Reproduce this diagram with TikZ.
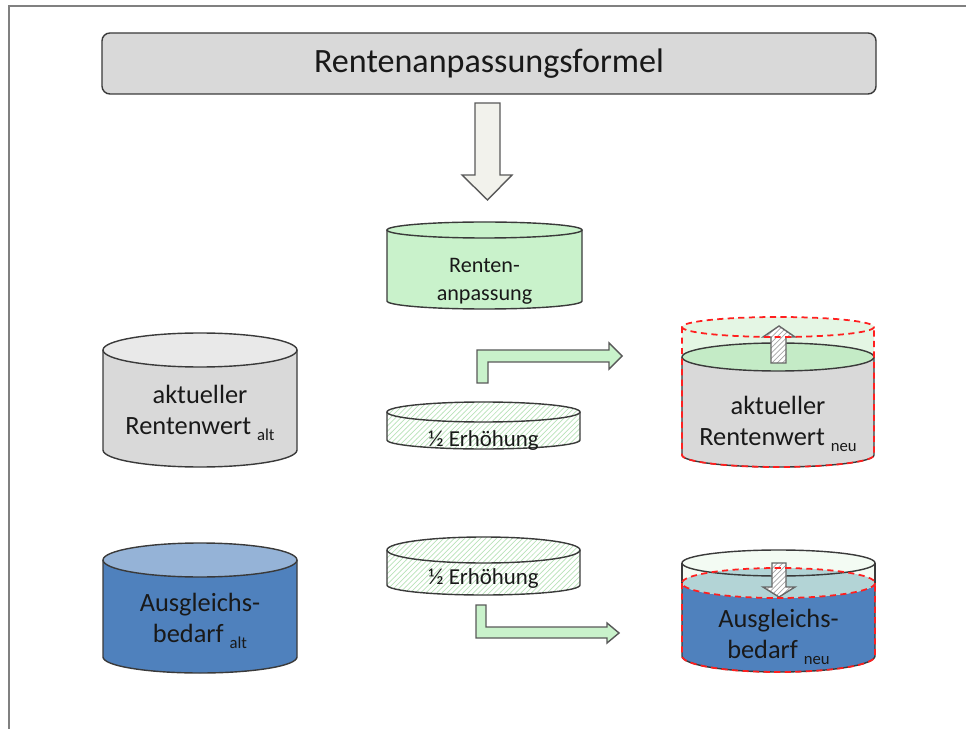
\documentclass[tikz,border=0pt]{standalone}
\usepackage{fontspec}
\setmainfont{Carlito}
\usepackage{xcolor}
\usepackage{tikz}
\usetikzlibrary{patterns}
\definecolor{framegray}{HTML}{808080}
\definecolor{titlegray}{HTML}{D9D9D9}
\definecolor{rimgray}{HTML}{3A3A3A}
\definecolor{arrowwhite}{HTML}{F2F2EC}
\definecolor{mintgreen}{HTML}{C9F2CB}
\definecolor{palegreen}{HTML}{E4F6E4}
\definecolor{lidgreen}{HTML}{C4EBC6}
\definecolor{hatchgreen}{HTML}{B9E3B9}
\definecolor{barrelgray}{HTML}{D9D9D9}
\definecolor{lidgray}{HTML}{E9E9E9}
\definecolor{barrelblue}{HTML}{4F81BD}
\definecolor{lidblue}{HTML}{95B3D7}
\definecolor{tealmix}{HTML}{B3D4D6}
\definecolor{dashred}{HTML}{FF1F1F}
\newcommand{\tief}[1]{\raisebox{-0.45ex}{\fontsize{9.5}{11}\selectfont #1}}

\begin{document}
\begin{tikzpicture}[x=0.2mm, y=-0.2mm,
    rim/.style={draw=rimgray, line width=0.8pt},
    reddash/.style={draw=dashred, line width=1pt, dash pattern=on 3.5pt off 2.5pt},
    hatched/.style={preaction={fill=white}, pattern=north east lines, pattern color=hatchgreen},
    arrowhatch/.style={preaction={fill=white}, pattern=north east lines, pattern color=black!35},
    barreltext/.style={font=\fontsize{15}{17.5}\selectfont, align=center, text=black!90},
    disctext/.style={font=\fontsize{13}{15}\selectfont, text=black!90}]
    \useasboundingbox (0,0) rectangle (966,729);
    \draw[framegray, line width=1.3pt] (9,729) -- (9,6) -- (966,6);

    \node[rim, fill=titlegray, rounded corners=4.5pt, minimum width=154.8mm,
          minimum height=12.2mm, font=\fontsize{19.4}{22}\selectfont, text=black!90]
          (formel) at (489,63.5) {Rentenanpassungsformel};
    \draw[draw=black!65, line width=0.8pt, fill=arrowwhite]
        (475,103) -- (500,103) -- (500,175) -- (512,175) -- (487.5,200)
        -- (462,175) -- (475,175) -- cycle;

    % Rentenanpassung
    \path[rim, fill=mintgreen] (387,230) -- (387,301)
        arc[start angle=180, end angle=0, x radius=97.5, y radius=8] -- (582,230);
    \draw[rim, fill=mintgreen] (484.5,230) ellipse[x radius=97.5, y radius=8];
    \node[disctext, font=\fontsize{12.6}{16}\selectfont, align=center]
        (anpassung) at (484.5,281) {Renten-\\anpassung};

    % aktueller Rentenwert alt
    \path[rim, fill=barrelgray] (103,350) -- (103,450)
        arc[start angle=180, end angle=0, x radius=97, y radius=17] -- (297,350);
    \draw[rim, fill=lidgray] (200,350) ellipse[x radius=97, y radius=17];
    \node[barreltext] (rwalt) at (200,413) {aktueller\\Rentenwert \tief{alt}};

    % Ausgleichsbedarf alt
    \path[rim, fill=barrelblue] (103,560) -- (103,657)
        arc[start angle=180, end angle=0, x radius=97, y radius=16] -- (297,560);
    \draw[rim, fill=lidblue] (200,560) ellipse[x radius=97, y radius=17];
    \node[barreltext] (abalt) at (200,621) {Ausgleichs-\\bedarf \tief{alt}};

    % halbe Erhoehungen
    \path[rim, hatched] (387,412) -- (387,440)
        arc[start angle=180, end angle=0, x radius=96.5, y radius=9] -- (580,412);
    \draw[rim, hatched] (483.5,412) ellipse[x radius=96.5, y radius=10];
    \node[disctext] (erhoehungoben) at (483.5,441) {½ Erhöhung};
    \path[rim, hatched] (387,550) -- (387,585)
        arc[start angle=180, end angle=0, x radius=96.5, y radius=10] -- (580,550);
    \draw[rim, hatched] (483.5,550) ellipse[x radius=96.5, y radius=13];
    \node[disctext] (erhoehungunten) at (483.5,579) {½ Erhöhung};

    \draw[draw=black!65, line width=0.8pt, fill=mintgreen]
        (477,383) -- (477,350) -- (609,350) -- (609,343) -- (622,356)
        -- (609,369) -- (609,362) -- (488,362) -- (488,383) -- cycle;
    \draw[draw=black!65, line width=0.8pt, fill=mintgreen]
        (476,605) -- (476,638) -- (607,638) -- (607,643) -- (619,633)
        -- (607,623) -- (607,627) -- (486,627) -- (486,605) -- cycle;

    % aktueller Rentenwert neu
    \path[rim, fill=barrelgray] (682,357) -- (682,455)
        arc[start angle=180, end angle=0, x radius=96, y radius=12] -- (874,357);
    \fill[palegreen] (682,327) -- (682,357)
        arc[start angle=180, end angle=0, x radius=96, y radius=14] -- (874,327)
        arc[start angle=0, end angle=-180, x radius=96, y radius=10] -- cycle;
    \draw[rim, fill=lidgreen] (778,357) ellipse[x radius=96, y radius=14];
    \draw[draw=black!60, line width=0.8pt, arrowhatch]
        (771,363) -- (771,337) -- (763,337) -- (779,326) -- (795,337)
        -- (786,337) -- (786,363) -- cycle;
    \draw[reddash] (778,327) ellipse[x radius=96, y radius=10];
    \draw[reddash] (682,327) -- (682,455)
        arc[start angle=180, end angle=0, x radius=96, y radius=12] -- (874,327);
    \node[barreltext] (rwneu) at (778,424) {aktueller\\Rentenwert \tief{neu}};

    % Ausgleichsbedarf neu
    \path[rim, fill=barrelblue] (682,583) -- (682,656)
        arc[start angle=180, end angle=0, x radius=96.5, y radius=16] -- (875,583);
    \fill[palegreen!45] (682,563) -- (682,583)
        arc[start angle=180, end angle=0, x radius=96.5, y radius=15] -- (875,563)
        arc[start angle=0, end angle=-180, x radius=96.5, y radius=13] -- cycle;
    \path[fill=tealmix] (778.5,583) ellipse[x radius=96.5, y radius=15];
    \draw[rim] (778.5,563) ellipse[x radius=96.5, y radius=13];
    \draw[rim] (682,563) -- (682,583) (875,563) -- (875,583);
    \draw[draw=black!60, line width=0.8pt, arrowhatch]
        (772,563) -- (786,563) -- (786,587) -- (795,587) -- (779,597)
        -- (763,587) -- (772,587) -- cycle;
    \draw[reddash] (778.5,583) ellipse[x radius=96.5, y radius=15];
    \draw[reddash] (682,583) -- (682,656)
        arc[start angle=180, end angle=0, x radius=96.5, y radius=16] -- (875,583);
    \node[barreltext] (abneu) at (778.5,637) {Ausgleichs-\\bedarf \tief{neu}};
\end{tikzpicture}
\end{document}
